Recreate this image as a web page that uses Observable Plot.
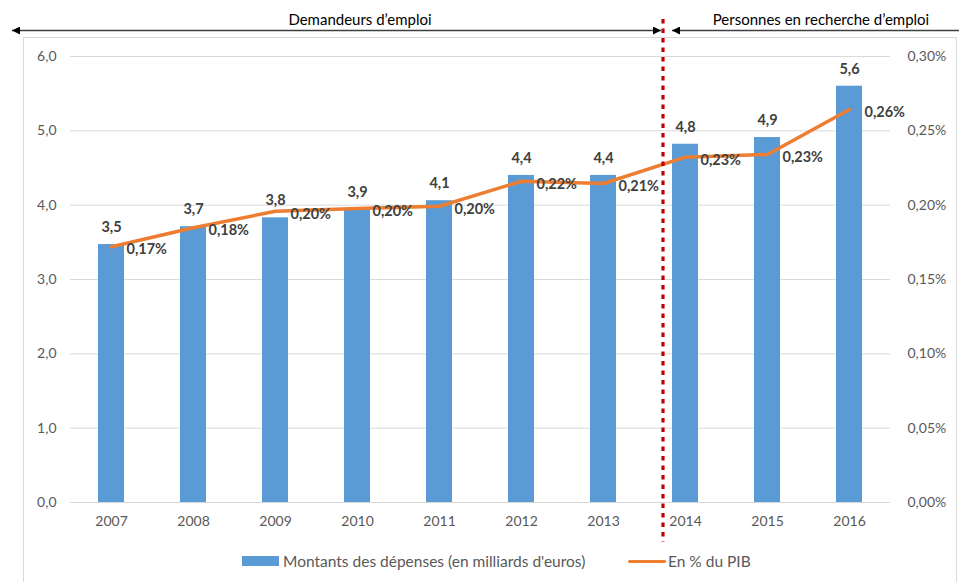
<!DOCTYPE html>
<html>
<head>
<meta charset="utf-8">
<script src="https://cdn.jsdelivr.net/npm/d3@7"></script>
<script src="https://cdn.jsdelivr.net/npm/@observablehq/plot@0.6"></script>
<style>
  html, body { margin: 0; padding: 0; background: #fff; }
  #wrap { position: relative; width: 959px; height: 582px; font-family: Lato, "Open Sans", sans-serif; overflow: hidden; }
  #legend { position: absolute; left: 0; top: 551px; width: 959px; height: 20px; font-size: 15.5px; color: #595959; }
  .lg { position: absolute; top: 0; line-height: 20px; white-space: nowrap; }
  #frame { position: absolute; left: 23px; top: 37px; width: 934px; height: 560px; border: 1px solid #D9D9D9; box-sizing: border-box; pointer-events: none; }
</style>
</head>
<body>
<div id="wrap">
  <div id="frame"></div>
  <div id="chart"></div>
  <div id="legend">
    <div class="lg" style="left:242px;top:5px;width:37px;height:10px;background:#5B9BD5"></div>
    <div class="lg" style="left:283px">Montants des dépenses (en milliards d'euros)</div>
    <div class="lg" style="left:628px;top:9px;width:38px;height:3px;background:#ED7D31;border-radius:2px"></div>
    <div class="lg" style="left:668px">En % du PIB</div>
  </div>
</div>
<script>
const years = ["2007","2008","2009","2010","2011","2012","2013","2014","2015","2016"];
const amounts = [3.47, 3.71, 3.83, 3.94, 4.06, 4.40, 4.40, 4.82, 4.91, 5.60];
const pctPIB = [0.172, 0.1848, 0.1959, 0.1978, 0.1993, 0.2161, 0.2146, 0.2323, 0.2341, 0.2643];
const leftTicks = [0, 1, 2, 3, 4, 5, 6];
const periodLeft = "Demandeurs d\u2019emploi";
const periodRight = "Personnes en recherche d\u2019emploi";
const splitYear = "2014";

const rows = years.map((y, i) => ({year: y, amount: amounts[i], pct: pctPIB[i]}));
const pctToY = p => p * 20; // 0.30% maps to 6.0
const comma = s => s.replace(".", ",");

const plot = Plot.plot({
  width: 959,
  height: 545,
  marginTop: 56,
  marginBottom: 43,
  marginLeft: 70,
  marginRight: 69,
  style: {fontFamily: "Lato, 'Open Sans', sans-serif", fontSize: "14px", background: "transparent", overflow: "visible"},
  x: {type: "band", domain: years, paddingInner: 0.68, paddingOuter: 0.34, axis: null},
  y: {domain: [0, 6], axis: null},
  marks: [
    Plot.gridY(leftTicks, {stroke: "#D9D9D9", strokeOpacity: 1, strokeWidth: 1}),
    Plot.axisY(leftTicks, {anchor: "left", tickSize: 0, tickPadding: 14, tickFormat: d => comma(d.toFixed(1)), fill: "#595959", fontSize: 14, label: null}),
    Plot.axisY(leftTicks, {anchor: "right", tickSize: 0, tickPadding: 17, tickFormat: d => comma((d * 0.05).toFixed(2)) + "%", fill: "#595959", fontSize: 14, label: null}),
    Plot.axisX(years, {anchor: "bottom", tickSize: 0, tickPadding: 14, fill: "#595959", fontSize: 14, label: null}),
    Plot.barY(rows, {x: "year", y: "amount", fill: "#5B9BD5"}),
    Plot.line(rows, {x: "year", y: d => pctToY(d.pct), stroke: "#ED7D31", strokeWidth: 3.5, strokeLinejoin: "round", strokeLinecap: "round"}),
    Plot.text(rows, {x: "year", y: "amount", text: d => comma(d.amount.toFixed(1)), dy: -17, fill: "#404040", fontWeight: "bold", fontSize: 14.5}),
    Plot.text(rows, {x: "year", y: d => pctToY(d.pct), text: d => comma(d.pct.toFixed(2)) + "%", dx: 15, dy: 3, textAnchor: "start", fill: "#404040", fontWeight: "bold", fontSize: 14.5})
  ]
});
document.getElementById("chart").appendChild(plot);

// annotations: split line and period arrows
const xs = plot.scale("x");
const splitX = xs.apply(splitYear) - 9;
const svg = d3.select(plot);
const defs = svg.append("defs");
defs.append("marker").attr("id", "ah").attr("viewBox", "0 0 10 10").attr("refX", 10).attr("refY", 5)
  .attr("markerWidth", 8).attr("markerHeight", 8).attr("markerUnits", "userSpaceOnUse").attr("orient", "auto-start-reverse")
  .append("path").attr("d", "M0,0 L10,5 L0,10 Z").attr("fill", "#000");
const ay = 30.5;
svg.append("line").attr("x1", 12).attr("x2", splitX - 2).attr("y1", ay).attr("y2", ay)
  .attr("stroke", "#404040").attr("stroke-width", 1.5)
  .attr("marker-start", "url(#ah)").attr("marker-end", "url(#ah)");
svg.append("line").attr("x1", splitX + 9).attr("x2", 970).attr("y1", ay).attr("y2", ay)
  .attr("stroke", "#404040").attr("stroke-width", 1.5)
  .attr("marker-start", "url(#ah)");
svg.append("line").attr("x1", splitX).attr("x2", splitX).attr("y1", 19).attr("y2", 542)
  .attr("stroke", "#C00000").attr("stroke-width", 3.2).attr("stroke-dasharray", "4.5 5");
svg.append("text").attr("x", 360).attr("y", 25).attr("text-anchor", "middle")
  .attr("font-size", 15).attr("font-weight", "normal").attr("fill", "#000").text(periodLeft);
svg.append("text").attr("x", 821).attr("y", 25).attr("text-anchor", "middle")
  .attr("font-size", 15).attr("font-weight", "normal").attr("fill", "#000").text(periodRight);
</script>
</body>
</html>
